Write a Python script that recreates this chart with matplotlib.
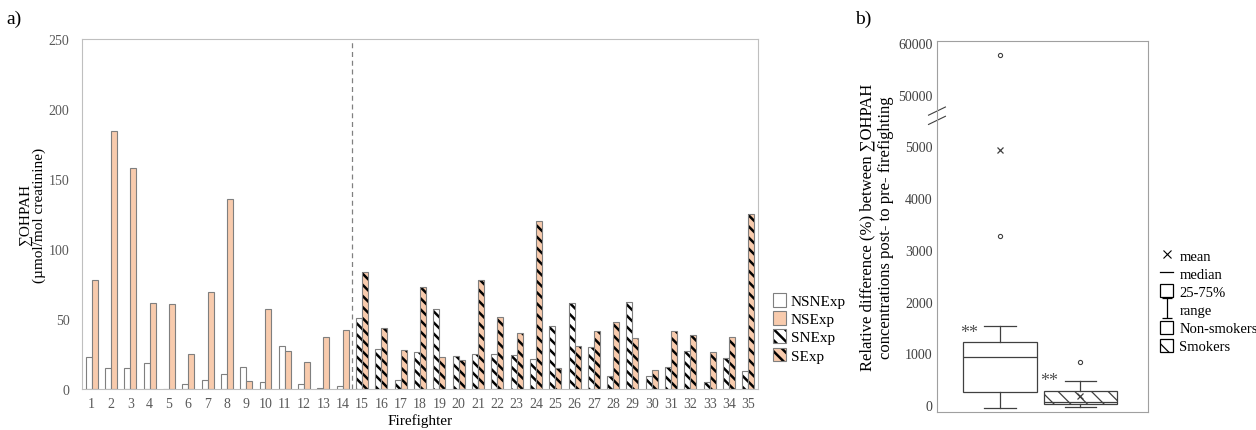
import numpy as np
import matplotlib
matplotlib.use('Agg')
import matplotlib.pyplot as plt
from matplotlib.patches import Patch
from matplotlib.lines import Line2D
from matplotlib.path import Path
from matplotlib.legend_handler import HandlerTuple

plt.rcParams['font.family'] = ['Liberation Serif', 'DejaVu Serif']

# panel a data (umol/mol creatinine)
ff_nonsmk = np.arange(1, 15)
ff_smk = np.arange(15, 36)
nsnexp = [22.6, 15.2, 15.0, 18.6, 0.3, 3.3, 6.2, 11.0, 16.0, 4.8, 30.7, 3.8, 0.7, 2.1]
nsexp = [78.0, 184.5, 157.6, 61.4, 60.5, 24.8, 69.0, 136.0, 6.0, 57.0, 27.4, 19.3, 37.1, 41.9]
snexp = [50.5, 28.3, 6.2, 26.4, 57.1, 23.3, 25.0, 25.0, 24.3, 21.2, 44.8, 61.7, 29.8,
         9.3, 62.4, 9.5, 16.0, 27.4, 5.2, 22.4, 13.1]
sexp = [83.3, 43.8, 28.1, 72.6, 22.6, 20.5, 77.6, 51.2, 40.2, 120.2, 15.0, 30.7, 41.7,
        47.6, 36.2, 13.8, 41.2, 38.3, 26.7, 36.9, 125.0]
legend_a = ['NSNExp', 'NSExp', 'SNExp', 'SExp']

# panel b data (relative difference %)
groups_b = ['Non-smokers', 'Smokers']
q1_b = [246, 20]
med_b = [936, 64]
q3_b = [1215, 277]
whislo_b = [-55, -45]
whishi_b = [1525, 470]
mean_b = [4940, 180]
fliers_b = [[3270, 57600], [840]]

orange = '#F8CBAD'
edge = '#7F7F7F'
frame = '#BFBFBF'
w = 0.31
hatch_a = '\\\\\\'

fig = plt.figure(figsize=(12.56, 4.31), dpi=100)

# ---------- panel a ----------
plt.rcParams['hatch.linewidth'] = 1.8
ax = fig.add_axes([0.0653, 0.0951, 0.5382, 0.8121])
ax.bar(ff_nonsmk - w / 2, nsnexp, w, color='white', edgecolor=edge, linewidth=0.8)
ax.bar(ff_nonsmk + w / 2, nsexp, w, color=orange, edgecolor=edge, linewidth=0.8)
ax.bar(ff_smk - w / 2, snexp, w, color='white', edgecolor='black', linewidth=0, hatch=hatch_a)
ax.bar(ff_smk - w / 2, snexp, w, fill=False, edgecolor=edge, linewidth=0.8)
ax.bar(ff_smk + w / 2, sexp, w, color=orange, edgecolor='black', linewidth=0, hatch=hatch_a)
ax.bar(ff_smk + w / 2, sexp, w, fill=False, edgecolor=edge, linewidth=0.8)
ax.axvline(14.5, color='#808080', linestyle=(0, (4, 3)), linewidth=0.9)

ax.set_xlim(0.5, 35.5)
ax.set_ylim(0, 250)
ax.set_yticks(np.arange(0, 251, 50))
ax.set_xticks(np.arange(1, 36))
ax.tick_params(length=0, labelsize=10, labelcolor='#595959')
ax.tick_params(axis='y', pad=9)
ax.tick_params(axis='x', pad=6)
for s in ax.spines.values():
    s.set_color(frame)
ax.set_xlabel('Firefighter', fontsize=11, labelpad=2)
ax.set_ylabel('∑OHPAH\n(µmol/mol creatinine)', fontsize=11, labelpad=2, linespacing=1.05)

h1 = Patch(facecolor='white', edgecolor=edge, linewidth=0.8)
h2 = Patch(facecolor=orange, edgecolor=edge, linewidth=0.8)
h3 = (Patch(facecolor='white', edgecolor='black', linewidth=0, hatch=hatch_a),
      Patch(fill=False, edgecolor=edge, linewidth=0.8))
h4 = (Patch(facecolor=orange, edgecolor='black', linewidth=0, hatch=hatch_a),
      Patch(fill=False, edgecolor=edge, linewidth=0.8))
fig.legend([h1, h2, h3, h4], legend_a, loc='center left', bbox_to_anchor=(0.609, 0.237),
           frameon=False, fontsize=11, handlelength=0.9, handleheight=1.0,
           handletextpad=0.3, labelspacing=0.2, borderpad=0,
           handler_map={tuple: HandlerTuple(ndivide=1, pad=0)})

fig.text(0.005, 0.945, 'a)', fontsize=14)
fig.text(0.681, 0.945, 'b)', fontsize=14)


# ---------- panel b ----------
def fwd(v):
    v = np.asarray(v, dtype=float)
    return np.where(v <= 5000, v / 1000,
                    np.where(v < 50000, 5 + (v - 5000) / 45000, 6 + (v - 50000) / 10000))


def inv(u):
    u = np.asarray(u, dtype=float)
    return np.where(u <= 5, u * 1000,
                    np.where(u < 6, 5000 + (u - 5) * 45000, 50000 + (u - 6) * 10000))


plt.rcParams['hatch.linewidth'] = 0.9
bx = fig.add_axes([0.746, 0.0418, 0.168, 0.8608])
bx.set_yscale('function', functions=(fwd, inv))
stats = []
for i in range(2):
    stats.append(dict(label=groups_b[i], q1=q1_b[i], med=med_b[i], q3=q3_b[i],
                      whislo=whislo_b[i], whishi=whishi_b[i], mean=mean_b[i],
                      fliers=fliers_b[i]))
pos = [0.30, 0.68]
bw = 0.35
res = bx.bxp(stats, positions=pos, widths=bw, showmeans=True, patch_artist=True,
             boxprops=dict(facecolor='white', edgecolor='#404040', linewidth=0.9),
             medianprops=dict(color='#404040', linewidth=0.9),
             whiskerprops=dict(color='#404040', linewidth=0.9),
             capprops=dict(color='#404040', linewidth=0.9),
             capwidths=0.15,
             meanprops=dict(marker='x', markeredgecolor='#404040', markersize=5,
                            markeredgewidth=0.9),
             flierprops=dict(marker='o', markersize=3, markerfacecolor='white',
                             markeredgecolor='#404040', markeredgewidth=0.8))
res['boxes'][1].set_hatch('\\\\')
for i in range(2):
    bx.text(pos[i] - bw / 2 - 0.015, q3_b[i] + 30, '**', fontsize=13, color='#505050',
            ha='left', va='bottom')

bx.set_xlim(0, 1)
bx.set_ylim(-136, 60400)
bx.set_yticks([0, 1000, 2000, 3000, 4000, 5000, 50000, 60000])
bx.set_yticklabels(['0', '1000', '2000', '3000', '4000', '5000', '50000', '60000'])
bx.set_xticks([])
bx.tick_params(length=0, labelsize=10, labelcolor='#404040', pad=3)
for s in bx.spines.values():
    s.set_color('#A0A0A0')
bx.set_ylabel('Relative difference (%) between ∑OHPAH\nconcentrations post- to pre- firefighting',
              fontsize=12, labelpad=3, linespacing=1.2)

# axis break marks
bx.plot([-0.01, 0.01], [0.786, 0.792], transform=bx.transAxes, color='white',
        linewidth=3, clip_on=False)
bx.plot([-0.04, 0.04], [0.775, 0.797], transform=bx.transAxes, color='#404040',
        linewidth=0.8, clip_on=False)
bx.plot([-0.04, 0.04], [0.800, 0.822], transform=bx.transAxes, color='#404040',
        linewidth=0.8, clip_on=False)

ibeam = Path([(-0.5, 1), (0.5, 1), (0, 1), (0, -1), (-0.5, -1), (0.5, -1)],
             [Path.MOVETO, Path.LINETO, Path.MOVETO, Path.LINETO, Path.MOVETO, Path.LINETO])
hb = [Line2D([], [], marker='x', linestyle='none', color='black', markersize=6,
             markeredgewidth=0.8),
      Line2D([], [], color='black', linewidth=0.9),
      Patch(facecolor='white', edgecolor='black', linewidth=0.9),
      Line2D([], [], marker=ibeam, linestyle='none', color='black', markersize=14,
             markerfacecolor='none', markeredgewidth=0.9),
      Patch(facecolor='white', edgecolor='black', linewidth=0.9),
      Patch(facecolor='white', edgecolor='black', linewidth=0.9, hatch='\\\\')]
fig.legend(hb, ['mean', 'median', '25-75%', 'range', 'Non-smokers', 'Smokers'],
           loc='center left', bbox_to_anchor=(0.918, 0.30), frameon=False, fontsize=10.5,
           handlelength=0.9, handleheight=1.0, handletextpad=0.4, labelspacing=0.25,
           borderpad=0)

fig.savefig('out.png', dpi=100)
